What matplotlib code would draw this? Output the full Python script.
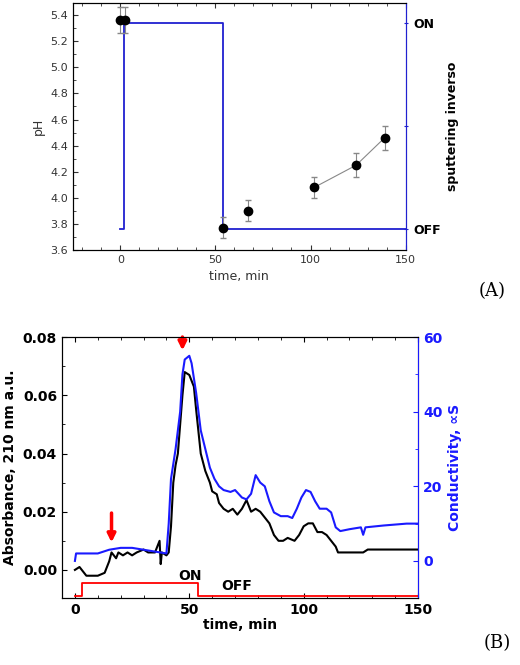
import numpy as np
import matplotlib.pyplot as plt
from matplotlib.ticker import MultipleLocator

# panel A data
ph_t = [0, 2.5, 54, 67, 102, 124, 139]
ph = [5.36, 5.36, 3.77, 3.90, 4.08, 4.25, 4.46]
ph_err = [0.10, 0.10, 0.08, 0.08, 0.08, 0.09, 0.09]
spA_t = [0, 2, 54, 150]
spA = [3.76, 5.34, 3.76, 3.76]

# panel B data
abs_t = [0, 2, 3, 5, 8, 10, 13, 14, 15, 16, 18, 19, 21, 23, 25, 27, 30, 32, 35, 37, 37.5, 38, 40,
         41, 42, 43, 44, 45, 46, 47, 48, 50, 52, 53, 55, 57, 59, 60, 62, 63, 65, 67, 69, 71, 73,
         75, 77, 79, 81, 83, 85, 87, 89, 91, 93, 96, 98, 100, 102, 104, 106, 108, 110, 112, 114,
         115, 118, 122, 126, 128, 150]
absorb = [0.000, 0.001, 0.000, -0.002, -0.002, -0.002, -0.001, 0.001, 0.003, 0.006, 0.004, 0.006,
          0.005, 0.006, 0.005, 0.006, 0.007, 0.006, 0.006, 0.010, 0.002, 0.006, 0.005, 0.006, 0.015,
          0.030, 0.036, 0.040, 0.050, 0.060, 0.068, 0.067, 0.063, 0.055, 0.040, 0.034, 0.030, 0.027,
          0.026, 0.023, 0.021, 0.020, 0.021, 0.019, 0.021, 0.024, 0.020, 0.021, 0.020, 0.018, 0.016,
          0.012, 0.010, 0.010, 0.011, 0.010, 0.012, 0.015, 0.016, 0.016, 0.013, 0.013, 0.012, 0.010,
          0.008, 0.006, 0.006, 0.006, 0.006, 0.007, 0.007]
cond_t = [0, 0.5, 10, 15, 20, 25, 30, 35, 40, 41, 42, 44, 46, 47, 48, 50, 51, 53, 55, 57, 59, 61,
          63, 65, 68, 70, 73, 75, 77, 79, 81, 83, 85, 87, 90, 93, 95, 97, 99, 101, 103, 105, 107,
          110, 112, 114, 116, 120, 125, 126, 127, 135, 145, 150]
cond = [0, 2, 2, 3, 3.5, 3.5, 3, 2.5, 2, 10, 22, 30, 40, 50, 54, 55, 53, 45, 35, 30, 25, 22, 20,
        19, 18.5, 19, 17, 16.5, 18, 23, 21, 20, 16, 13, 12, 12, 11.5, 14, 17, 19, 18.5, 16, 14, 14,
        13, 9, 8, 8.5, 9, 7, 9, 9.5, 10, 10]
onoff_t = [0, 3, 54, 150]
onoff = [-0.0088, -0.0045, -0.0088, -0.0088]

fig = plt.figure(figsize=(5.2, 6.65), dpi=100)

# ---- panel A
axA = fig.add_axes([0.140, 0.624, 0.640, 0.371])
axA.plot(spA_t, spA, drawstyle='steps-post', color='#2020d0', lw=1.3)
axA.plot(ph_t[4:], ph[4:], color='#888888', lw=0.8)
axA.errorbar(ph_t, ph, yerr=ph_err, fmt='o', color='black', ms=6,
             ecolor='#888888', elinewidth=0.8, capsize=2)
axA.set_xlim(-25, 150)
axA.set_ylim(3.6, 5.49)
axA.set_xticks([0, 50, 100, 150])
axA.xaxis.set_minor_locator(MultipleLocator(10))
axA.yaxis.set_major_locator(MultipleLocator(0.2))
axA.yaxis.set_minor_locator(MultipleLocator(0.1))
axA.tick_params(labelsize=8, colors='#333333', direction='in', top=True, which='both')
axA.set_xlabel('time, min', fontsize=9, color='#333333')
axA.set_ylabel('pH', fontsize=9, color='#333333')
axA.spines['right'].set_color('#2020d0')
tA = axA.twinx()
tA.set_ylim(3.6, 5.49)
tA.set_yticks([3.76, 4.55, 5.34])
tA.set_yticklabels(['OFF', '', 'ON'], fontweight='bold', fontsize=9)
tA.tick_params(colors='#2020d0', direction='inout', labelcolor='black')
tA.spines['right'].set_color('#2020d0')
tA.set_ylabel('sputtering inverso', fontsize=9, fontweight='bold')
fig.text(0.92, 0.555, '(A)', fontsize=13, family='DejaVu Serif')

# ---- panel B
axB = fig.add_axes([0.119, 0.101, 0.685, 0.392])
axB.plot(abs_t, absorb, color='black', lw=1.5)
axB.plot(onoff_t, onoff, drawstyle='steps-post', color='red', lw=1.3)
axB.set_xlim(-5.7, 150)
axB.set_ylim(-0.0096, 0.08)
axB.set_xticks([0, 50, 100, 150])
axB.set_yticks([0, 0.02, 0.04, 0.06, 0.08])
axB.set_yticklabels(['0.00', '0.02', '0.04', '0.06', '0.08'])
axB.xaxis.set_minor_locator(MultipleLocator(10))
axB.yaxis.set_minor_locator(MultipleLocator(0.01))
axB.tick_params(labelsize=10, direction='in', which='both', top=True)
for lab in axB.get_xticklabels() + axB.get_yticklabels():
    lab.set_fontweight('bold')
axB.set_xlabel('time, min', fontsize=10, fontweight='bold', labelpad=1)
axB.set_ylabel('Absorbance, 210 nm a.u.', fontsize=10, fontweight='bold')
axB.text(45, -0.0035, 'ON', fontsize=10, fontweight='bold')
axB.text(64, -0.0068, 'OFF', fontsize=10, fontweight='bold')
axB.annotate('', xy=(16, 0.0085), xytext=(16, 0.0205),
             arrowprops=dict(arrowstyle='-|>', color='red', lw=2.5, mutation_scale=12))
axB.annotate('', xy=(47, 0.0745), xytext=(47, 0.081), annotation_clip=False,
             arrowprops=dict(arrowstyle='-|>', color='red', lw=2.5, mutation_scale=12))
tB = axB.twinx()
tB.plot(cond_t, cond, color='#1a1aff', lw=1.5)
tB.set_ylim(-9.9, 60)
tB.set_yticks([0, 20, 40, 60])
tB.yaxis.set_minor_locator(MultipleLocator(10))
tB.tick_params(colors='#1a1aff', labelsize=10, direction='in', which='both')
for lab in tB.get_yticklabels():
    lab.set_fontweight('bold')
tB.spines['right'].set_color('#1a1aff')
tB.set_ylabel('Conductivity, \u221dS', fontsize=10, fontweight='bold', color='#1a1aff')
fig.text(0.93, 0.025, '(B)', fontsize=13, family='DejaVu Serif')

fig.savefig('out.png', dpi=100)
